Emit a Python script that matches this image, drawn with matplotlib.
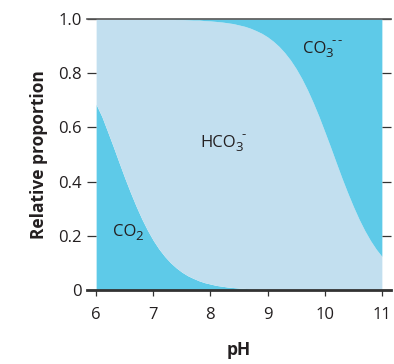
import numpy as np
import matplotlib
matplotlib.use('Agg')
import matplotlib.pyplot as plt

plt.rcParams['font.family'] = ['Open Sans', 'DejaVu Sans']

# pH grid, step 0.1
ph = [6.0, 6.1, 6.2, 6.3, 6.4, 6.5, 6.6, 6.7, 6.8, 6.9,
      7.0, 7.1, 7.2, 7.3, 7.4, 7.5, 7.6, 7.7, 7.8, 7.9,
      8.0, 8.1, 8.2, 8.3, 8.4, 8.5, 8.6, 8.7, 8.8, 8.9,
      9.0, 9.1, 9.2, 9.3, 9.4, 9.5, 9.6, 9.7, 9.8, 9.9,
      10.0, 10.1, 10.2, 10.3, 10.4, 10.5, 10.6, 10.7, 10.8, 10.9, 11.0]
# upper edge of the CO2 band
co2_top = [0.685, 0.640, 0.585, 0.529, 0.471, 0.414, 0.360, 0.309, 0.262, 0.220,
           0.183, 0.151, 0.124, 0.101, 0.082, 0.066, 0.053, 0.043, 0.034, 0.027,
           0.022, 0.017, 0.014, 0.011, 0.009, 0.007, 0.006, 0.004, 0.004, 0.003,
           0.002, 0.002, 0.001, 0.001, 0.001, 0.001, 0.0, 0.0, 0.0, 0.0,
           0.0, 0.0, 0.0, 0.0, 0.0, 0.0, 0.0, 0.0, 0.0, 0.0, 0.0]
# upper edge of the HCO3- band (below the CO3-- band)
hco3_top = [1.0, 1.0, 1.0, 1.0, 1.0, 1.0, 1.0, 1.0, 1.0, 1.0,
            1.0, 0.999, 0.999, 0.999, 0.998, 0.998, 0.997, 0.996, 0.996, 0.994,
            0.993, 0.991, 0.989, 0.986, 0.983, 0.978, 0.973, 0.966, 0.957, 0.947,
            0.934, 0.918, 0.899, 0.876, 0.849, 0.817, 0.780, 0.738, 0.691, 0.640,
            0.585, 0.529, 0.471, 0.414, 0.360, 0.309, 0.262, 0.220, 0.183, 0.151, 0.124]

x_ticks = [6, 7, 8, 9, 10, 11]
y_ticks = [0, 0.2, 0.4, 0.6, 0.8, 1.0]
y_labels = ['0', '0.2', '0.4', '0.6', '0.8', '1.0']

# species labels: base, subscript, superscript
species = [('CO', '2', ''), ('HCO', '3', '-'), ('CO', '3', '--')]

blue = '#5ECAE8'
light = '#C2DFEF'
txt = '#231F20'

fig = plt.figure(figsize=(3.94, 3.64), dpi=100)
ax = fig.add_axes([0.2208, 0.2033, 0.7716, 0.7445])

ax.fill_between(ph, 0, co2_top, color=blue, lw=0)
ax.fill_between(ph, co2_top, hco3_top, color=light, lw=0)
ax.fill_between(ph, hco3_top, 1.0, color=blue, lw=0)

ax.set_xlim(5.84, 11.16)
ax.set_ylim(0, 1.0)
ax.set_xticks(x_ticks)
ax.set_yticks(y_ticks)
ax.set_yticklabels(y_labels)

# Spines setting
ax.spines['left'].set_visible(False)
ax.spines['right'].set_visible(False)
ax.spines['top'].set_color('#555555')
ax.spines['top'].set_linewidth(1.2)
ax.spines['bottom'].set_color('#333333')
ax.spines['bottom'].set_linewidth(2.0)

ax.tick_params(axis='y', direction='in', length=6.5, width=0.9, color='#333333',
               left=True, right=True, labelsize=12, labelcolor=txt, pad=4)
ax.tick_params(axis='x', direction='out', length=4.5, width=0.9, color='#333333',
               labelsize=12, labelcolor=txt, pad=8)

ax.set_xlabel('pH', fontsize=12.5, fontweight='bold', color=txt, labelpad=13)
ax.set_ylabel('Relative proportion', fontsize=12.5, fontweight='bold', color=txt, labelpad=7)


def chemLabel(ax, x, y, base, sub, sup):
    r = fig.canvas.get_renderer()
    t = ax.text(x, y, base, fontsize=12, color=txt, va='baseline')
    w = t.get_window_extent(r).width * 72 / fig.dpi
    s = ax.annotate(sub, (x, y), xytext=(w - 0.4, -3.2), textcoords='offset points',
                    fontsize=9.5, color=txt, va='baseline')
    sw = s.get_window_extent(r).width * 72 / fig.dpi
    # each charge dash placed on its own so they stay apart
    for i, ch in enumerate(sup):
        ax.annotate(ch, (x, y), xytext=(w + sw - 1.6 + 4.2 * i, 6.2), textcoords='offset points',
                    fontsize=9.5, color=txt, va='baseline')


label_pos = [(6.29, 0.200), (7.83, 0.529), (9.62, 0.875)]
for (base, sub, sup), (lx, ly) in zip(species, label_pos):
    chemLabel(ax, lx, ly, base, sub, sup)

fig.savefig('out.png', dpi=100)
